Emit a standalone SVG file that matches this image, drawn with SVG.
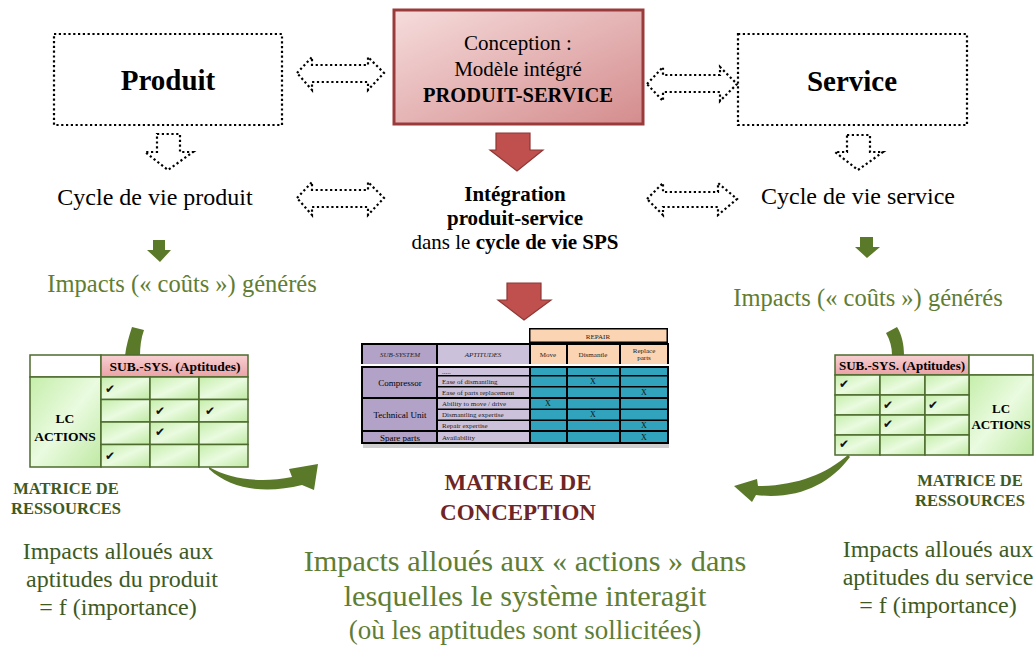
<svg xmlns="http://www.w3.org/2000/svg" width="1036" height="646" viewBox="0 0 1036 646">
<defs>
<linearGradient id="redBox" x1="0" y1="0" x2="1" y2="1">
<stop offset="0" stop-color="#f6dcdc"/><stop offset="1" stop-color="#d48c8d"/>
</linearGradient>
<linearGradient id="greenCell" x1="0" y1="0" x2="1" y2="1">
<stop offset="0" stop-color="#c5eeaa"/><stop offset="0.5" stop-color="#eafbe0"/><stop offset="1" stop-color="#bfe9a3"/>
</linearGradient>
<linearGradient id="pinkHead" x1="0" y1="0" x2="0" y2="1">
<stop offset="0" stop-color="#f7d0d2"/><stop offset="1" stop-color="#eba2a6"/>
</linearGradient>
<style>
.serif{font-family:"Liberation Serif","Times New Roman",serif}
.dot{fill:#fff;stroke:#000;stroke-width:2.2;stroke-dasharray:2.2 2.6}
.redArrow{fill:#c0504d;stroke:#8c3836;stroke-width:1.2}
.greenArrow{fill:#5a7a29}
.greenTxt{fill:#5f7d33}
.darkGreen{fill:#3e5a22}
.mgrid{fill:url(#greenCell);stroke:#4e6b2e;stroke-width:1.5}
.mhead{fill:url(#pinkHead);stroke:#4e6b2e;stroke-width:1.5}
.mwhite{fill:#fff;stroke:#4e6b2e;stroke-width:1.5}
.chk{font-family:"DejaVu Sans",sans-serif;font-size:12px;fill:#111}
.sub{fill:#b3a2c7}
.apt{fill:#ccc1da}
.peach{fill:#fbd4b4}
.teal{fill:#31a3bc}
.tiny{font-family:"Liberation Serif",serif;font-size:7px;fill:#222}
.xm{font-family:"Liberation Serif",serif;font-size:8px;fill:#111}
</style>
</defs>
<rect width="1036" height="646" fill="#fff"/>

<g id="produit">
<rect class="dot" x="54" y="34" width="228" height="91"/>
<text class="serif" x="168" y="90" font-size="29" font-weight="bold" text-anchor="middle">Produit</text>
</g>

<g id="conception">
<rect x="394" y="10" width="249" height="114" fill="url(#redBox)" stroke="#9b3a3a" stroke-width="3"/>
<text class="serif" x="518" y="50" font-size="21" text-anchor="middle">Conception :</text>
<text class="serif" x="518" y="76" font-size="21" text-anchor="middle">Modèle intégré</text>
<text class="serif" x="518" y="102" font-size="20.5" font-weight="bold" text-anchor="middle">PRODUIT-SERVICE</text>
</g>

<g id="service">
<rect class="dot" x="738" y="34" width="229" height="91"/>
<text class="serif" x="852" y="91" font-size="29" font-weight="bold" text-anchor="middle">Service</text>
</g>

<g id="cycle-produit">
<text class="serif" x="155" y="205" font-size="24" text-anchor="middle">Cycle de vie produit</text>
</g>

<g id="integration">
<text class="serif" x="515" y="201" font-size="21" font-weight="bold" text-anchor="middle">Intégration</text>
<text class="serif" x="515" y="225" font-size="21" font-weight="bold" text-anchor="middle">produit-service</text>
<text class="serif" x="515" y="249" font-size="21" text-anchor="middle">dans le <tspan font-weight="bold">cycle de vie SPS</tspan></text>
</g>

<g id="cycle-service">
<text class="serif" x="858" y="204" font-size="24" text-anchor="middle">Cycle de vie service</text>
</g>

<g id="impacts-gauche">
<text class="serif greenTxt" x="182" y="292" font-size="24.5" text-anchor="middle">Impacts (« coûts ») générés</text>
</g>
<g id="impacts-droite">
<text class="serif greenTxt" x="868" y="306" font-size="24.5" text-anchor="middle">Impacts (« coûts ») générés</text>
</g>

<g id="connectors">
<path class="dot" d="M297,73 L312,57 L312,65 L368,65 L368,57 L384,73 L368,90 L368,82 L312,82 L312,90 Z"/>
<path class="dot" d="M647,84 L663,67 L663,75 L720,75 L720,67 L737,84 L720,101 L720,92 L663,92 L663,101 Z"/>
<path class="dot" d="M297,198 L312,182 L312,190 L368,190 L368,182 L384,198 L368,215 L368,207 L312,207 L312,215 Z"/>
<path class="dot" d="M647,199 L663,183 L663,192 L718,192 L718,183 L737,199 L718,215 L718,207 L663,207 L663,215 Z"/>
<path class="dot" d="M157,134 L180,134 L180,152 L193,152 L168,170 L145,152 L157,152 Z"/>
<path class="dot" d="M847,135 L870,135 L870,152 L883,152 L858,170 L835,152 L847,152 Z"/>
<path class="redArrow" d="M496,133 L530,133 L530,150 L543,150 L517,171 L490,150 L496,150 Z"/>
<path class="redArrow" d="M507,283 L541,283 L541,300 L551,300 L524,320 L498,300 L507,300 Z"/>
<path class="greenArrow" d="M153,240 L165,240 L165,250 L171,250 L160,262 L147,250 L153,250 Z"/>
<path class="greenArrow" d="M860,237 L873,237 L873,247 L880,247 L867,258 L855,247 L860,247 Z"/>
<path class="greenArrow" d="M125,356 C126,346 129,336 132,327 L144,330 C141,338 140,347 140,356 Z"/>
<path class="greenArrow" d="M886,333 L897,327 C902,335 904,345 904,355 L892,355 C892,347 890,340 886,333 Z"/>
<path class="greenArrow" d="M209,467 C232,480 262,483 292,477 L289,469 L318,464 L314,490 L302,485 C266,494 232,490 209,469 Z"/>
<path class="greenArrow" d="M848,455 C826,474 796,486 758,486 L757,479 L734,486 L752,502 L756,495 C798,500 830,484 850,457 Z"/>
</g>

<g id="matrice-ressources-produit">
<rect class="mwhite" x="30" y="355" width="71" height="22"/>
<rect class="mhead" x="101" y="355" width="147" height="22"/>
<text class="serif" x="175" y="371" font-size="13.5" font-weight="bold" text-anchor="middle">SUB.-SYS. (Aptitudes)</text>
<rect class="mgrid" x="30" y="377" width="71" height="90"/>
<text class="serif" x="65" y="423" font-size="13.5" font-weight="bold" text-anchor="middle">LC</text>
<text class="serif" x="65" y="441" font-size="13.5" font-weight="bold" text-anchor="middle">ACTIONS</text>
<rect class="mgrid" x="101" y="377" width="49" height="22.5"/>
<rect class="mgrid" x="150" y="377" width="49" height="22.5"/>
<rect class="mgrid" x="199" y="377" width="49" height="22.5"/>
<rect class="mgrid" x="101" y="399.5" width="49" height="22.5"/>
<rect class="mgrid" x="150" y="399.5" width="49" height="22.5"/>
<rect class="mgrid" x="199" y="399.5" width="49" height="22.5"/>
<rect class="mgrid" x="101" y="422" width="49" height="22.5"/>
<rect class="mgrid" x="150" y="422" width="49" height="22.5"/>
<rect class="mgrid" x="199" y="422" width="49" height="22.5"/>
<rect class="mgrid" x="101" y="444.5" width="49" height="22.5"/>
<rect class="mgrid" x="150" y="444.5" width="49" height="22.5"/>
<rect class="mgrid" x="199" y="444.5" width="49" height="22.5"/>
<text class="chk" x="105" y="393">✔</text>
<text class="chk" x="155" y="415">✔</text>
<text class="chk" x="205" y="415">✔</text>
<text class="chk" x="155" y="436">✔</text>
<text class="chk" x="105" y="460">✔</text>
</g>

<g id="label-ressources-gauche">
<text class="serif darkGreen" x="66" y="494" font-size="16.5" font-weight="bold" text-anchor="middle">MATRICE DE</text>
<text class="serif darkGreen" x="66" y="514" font-size="16.5" font-weight="bold" text-anchor="middle">RESSOURCES</text>
</g>

<g id="texte-produit">
<text class="serif darkGreen" x="118" y="559" font-size="24" text-anchor="middle">Impacts alloués aux</text>
<text class="serif darkGreen" x="122" y="587" font-size="24" text-anchor="middle">aptitudes du produit</text>
<text class="serif darkGreen" x="118" y="615" font-size="24" text-anchor="middle">= f (importance)</text>
</g>

<g id="matrice-conception-table">
<rect x="529" y="328" width="139" height="15" fill="#000"/>
<rect class="peach" x="530.5" y="329.5" width="136" height="12"/>
<text class="tiny" x="598" y="338.5" text-anchor="middle">REPAIR</text>
<rect x="361" y="343" width="308" height="101" fill="#000"/>
<rect class="sub" x="363" y="345" width="73" height="19"/>
<rect class="apt" x="438" y="345" width="91" height="19"/>
<rect class="peach" x="531" y="345" width="35" height="19"/>
<rect class="peach" x="568" y="345" width="51" height="19"/>
<rect class="peach" x="621" y="345" width="46" height="19"/>
<text class="tiny" x="400" y="357" text-anchor="middle" font-size="4.5" font-style="italic">SUB-SYSTEM</text>
<text class="tiny" x="483" y="357" text-anchor="middle" font-size="4.5" font-style="italic">APTITUDES</text>
<text class="tiny" x="548" y="357" text-anchor="middle" font-size="6">Move</text>
<text class="tiny" x="593" y="357" text-anchor="middle" font-size="6">Dismantle</text>
<text class="tiny" x="644" y="353" text-anchor="middle" font-size="6">Replace</text>
<text class="tiny" x="644" y="360" text-anchor="middle" font-size="6">parts</text>
<rect x="361" y="364" width="308" height="2" fill="#fff"/>
<rect class="sub" x="363" y="368" width="73" height="29"/>
<rect class="sub" x="363" y="399" width="73" height="31"/>
<rect class="sub" x="363" y="432" width="73" height="10"/>
<text class="serif" x="400" y="386" font-size="9" text-anchor="middle">Compressor</text>
<text class="serif" x="400" y="418" font-size="9" text-anchor="middle">Technical Unit</text>
<text class="serif" x="400" y="440.5" font-size="9" text-anchor="middle">Spare parts</text>
<rect class="apt" x="438" y="368" width="91" height="7"/>
<rect class="apt" x="438" y="376.5" width="91" height="9.5"/>
<rect class="apt" x="438" y="387.5" width="91" height="9.5"/>
<rect class="apt" x="438" y="399" width="91" height="9.5"/>
<rect class="apt" x="438" y="410" width="91" height="9.5"/>
<rect class="apt" x="438" y="421" width="91" height="9"/>
<rect class="apt" x="438" y="432" width="91" height="10"/>
<text class="tiny" x="442" y="374">.....</text>
<text class="tiny" x="442" y="384">Ease of dismantling</text>
<text class="tiny" x="442" y="395">Ease of parts replacement</text>
<text class="tiny" x="442" y="406">Ability  to move / drive</text>
<text class="tiny" x="442" y="417">Dismantling  expertise</text>
<text class="tiny" x="442" y="428">Repair expertise</text>
<text class="tiny" x="442" y="440">Availability</text>
<g class="teal">
<rect x="531" y="368" width="35" height="7"/><rect x="568" y="368" width="51" height="7"/><rect x="621" y="368" width="46" height="7"/>
<rect x="531" y="376.5" width="35" height="9.5"/><rect x="568" y="376.5" width="51" height="9.5"/><rect x="621" y="376.5" width="46" height="9.5"/>
<rect x="531" y="387.5" width="35" height="9.5"/><rect x="568" y="387.5" width="51" height="9.5"/><rect x="621" y="387.5" width="46" height="9.5"/>
<rect x="531" y="399" width="35" height="9.5"/><rect x="568" y="399" width="51" height="9.5"/><rect x="621" y="399" width="46" height="9.5"/>
<rect x="531" y="410" width="35" height="9.5"/><rect x="568" y="410" width="51" height="9.5"/><rect x="621" y="410" width="46" height="9.5"/>
<rect x="531" y="421" width="35" height="9"/><rect x="568" y="421" width="51" height="9"/><rect x="621" y="421" width="46" height="9"/>
<rect x="531" y="432" width="35" height="10"/><rect x="568" y="432" width="51" height="10"/><rect x="621" y="432" width="46" height="10"/>
</g>
<text class="xm" x="593" y="384" text-anchor="middle">X</text>
<text class="xm" x="644" y="395" text-anchor="middle">X</text>
<text class="xm" x="548" y="406" text-anchor="middle">X</text>
<text class="xm" x="593" y="417" text-anchor="middle">X</text>
<text class="xm" x="644" y="428" text-anchor="middle">X</text>
<text class="xm" x="644" y="440" text-anchor="middle">X</text>
<rect x="363" y="444" width="306" height="4" fill="#cfcfcf"/>
</g>

<g id="label-conception">
<text class="serif" x="518" y="490" font-size="23" font-weight="bold" fill="#6e2526" text-anchor="middle">MATRICE DE</text>
<text class="serif" x="518" y="520" font-size="23" font-weight="bold" fill="#6e2526" text-anchor="middle">CONCEPTION</text>
</g>

<g id="texte-conception">
<text class="serif greenTxt" x="525" y="571" font-size="30.3" text-anchor="middle">Impacts alloués aux « actions » dans</text>
<text class="serif greenTxt" x="525" y="606" font-size="30.3" text-anchor="middle">lesquelles le système interagit</text>
<text class="serif greenTxt" x="525" y="639" font-size="27" text-anchor="middle">(où les aptitudes sont sollicitées)</text>
</g>

<g id="matrice-ressources-service">
<rect class="mhead" x="835" y="355" width="134" height="20"/>
<rect class="mwhite" x="969" y="355" width="64" height="20"/>
<text class="serif" x="902" y="370" font-size="13" font-weight="bold" text-anchor="middle">SUB.-SYS. (Aptitudes)</text>
<rect class="mgrid" x="969" y="375" width="64" height="80"/>
<text class="serif" x="1001" y="413" font-size="13" font-weight="bold" text-anchor="middle">LC</text>
<text class="serif" x="1001" y="429" font-size="13" font-weight="bold" text-anchor="middle">ACTIONS</text>
<rect class="mgrid" x="835" y="375" width="45" height="20"/>
<rect class="mgrid" x="880" y="375" width="45" height="20"/>
<rect class="mgrid" x="925" y="375" width="44" height="20"/>
<rect class="mgrid" x="835" y="395" width="45" height="20"/>
<rect class="mgrid" x="880" y="395" width="45" height="20"/>
<rect class="mgrid" x="925" y="395" width="44" height="20"/>
<rect class="mgrid" x="835" y="415" width="45" height="20"/>
<rect class="mgrid" x="880" y="415" width="45" height="20"/>
<rect class="mgrid" x="925" y="415" width="44" height="20"/>
<rect class="mgrid" x="835" y="435" width="45" height="20"/>
<rect class="mgrid" x="880" y="435" width="45" height="20"/>
<rect class="mgrid" x="925" y="435" width="44" height="20"/>
<text class="chk" x="839" y="388">✔</text>
<text class="chk" x="883" y="409">✔</text>
<text class="chk" x="928" y="409">✔</text>
<text class="chk" x="883" y="428">✔</text>
<text class="chk" x="839" y="448">✔</text>
</g>

<g id="label-ressources-droite">
<text class="serif darkGreen" x="970" y="486" font-size="16.5" font-weight="bold" text-anchor="middle">MATRICE DE</text>
<text class="serif darkGreen" x="970" y="506" font-size="16.5" font-weight="bold" text-anchor="middle">RESSOURCES</text>
</g>

<g id="texte-service">
<text class="serif darkGreen" x="938" y="557" font-size="24" text-anchor="middle">Impacts alloués aux</text>
<text class="serif darkGreen" x="938" y="585" font-size="24" text-anchor="middle">aptitudes du service</text>
<text class="serif darkGreen" x="938" y="613" font-size="24" text-anchor="middle">= f (importance)</text>
</g>
</svg>
